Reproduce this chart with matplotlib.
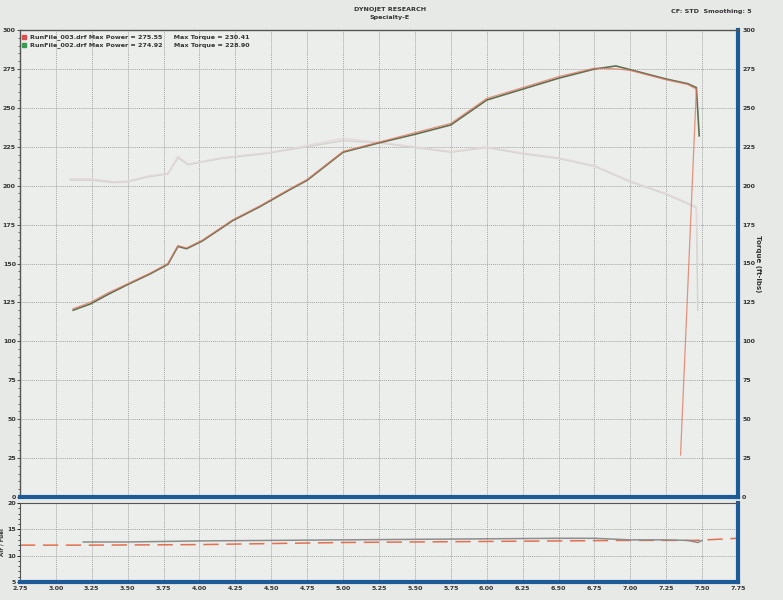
import matplotlib
matplotlib.use('agg')
import matplotlib.pyplot as plt
from matplotlib.ticker import MultipleLocator, AutoMinorLocator

# RPM x1000
rpm_003 = [3.12, 3.24, 3.36, 3.50, 3.66, 3.78, 3.85, 3.91, 4.02, 4.23, 4.42, 4.63, 4.75,
           5.00, 5.25, 5.50, 5.75, 6.00, 6.25, 6.50, 6.75, 6.90, 7.00, 7.25, 7.40, 7.46, 7.35]
power_003 = [121, 125, 131, 137, 144, 150, 161.5, 160, 165, 178, 187, 198, 204,
             222, 228, 234, 240, 256, 263, 270, 275.5, 275, 274, 268, 265, 262, 27]
rpm_002 = [3.12, 3.24, 3.36, 3.50, 3.66, 3.78, 3.85, 3.91, 4.02, 4.23, 4.42, 4.63, 4.75,
           5.00, 5.25, 5.50, 5.75, 6.00, 6.25, 6.50, 6.75, 6.90, 7.00, 7.25, 7.40, 7.46, 7.48]
power_002 = [120, 124, 130, 136.5, 143.5, 149.5, 161, 159.5, 164.5, 177.5, 186.5, 197.5, 203.5,
             221.5, 227.5, 233, 239, 255, 262, 269, 274.9, 276.9, 274.5, 268.5, 265.5, 263, 232]

rpm_tq = [3.10, 3.25, 3.40, 3.50, 3.65, 3.78, 3.85, 3.92, 4.15, 4.45, 4.63, 5.00,
          5.25, 5.50, 5.75, 6.00, 6.25, 6.50, 6.75, 7.00, 7.25, 7.46, 7.47]
torque_003 = [204.5, 204.5, 202.6, 203, 206.4, 208, 219, 214, 218, 221, 223.7, 230.4,
              228, 225, 222, 225, 221, 218, 213, 203, 195, 186.5, 150]
torque_002 = [203.5, 203.5, 202, 202.5, 205.8, 207.5, 218, 213.5, 217.5, 220.5, 223.2, 228.9,
              227.5, 224.5, 221.5, 224.5, 220.5, 217.5, 212.5, 202.5, 194.5, 186, 120]

rpm_afr = [3.19, 3.50, 4.00, 4.50, 5.00, 5.50, 6.00, 6.50, 6.75, 7.00, 7.25, 7.40, 7.47, 7.50]
afr_run = [12.6, 12.6, 12.8, 12.9, 13.0, 13.1, 13.2, 13.3, 13.3, 13.0, 13.0, 12.9, 12.5, 12.9]
rpm_afr_ref = [2.75, 3.25, 4.00, 4.50, 5.00, 5.50, 6.00, 6.50, 7.00, 7.45, 7.75]
afr_ref = [12.0, 12.0, 12.1, 12.3, 12.5, 12.6, 12.7, 12.8, 12.9, 12.9, 13.3]

x_ticks = [2.75 + 0.25 * i for i in range(21)]
legend_lines = ['RunFile_003.drf Max Power = 275.55     Max Torque = 230.41',
                'RunFile_002.drf Max Power = 274.92     Max Torque = 228.90']

bg = '#e7e9e7'
blue = '#1d5b98'
grid_kw = dict(color='#a4a6a4', linestyle=(0, (1, 1)), linewidth=0.7)

fig = plt.figure(figsize=(7.83, 6.0), dpi=100, facecolor=bg)
W, H = 783.0, 600.0

ax = fig.add_axes([20 / W, (H - 497) / H, (738 - 20) / W, (497 - 30) / H], facecolor='#eceeec')
ax2 = fig.add_axes([20 / W, (H - 582) / H, (738 - 20) / W, (582 - 503) / H], facecolor='#eceeec')

# main panel
ax.plot(rpm_tq, torque_002, color='#d2d4d2', lw=1.1, zorder=2)
ax.plot(rpm_tq, torque_003, color='#e6d8d8', lw=0.9, zorder=2)
ax.plot(rpm_002, power_002, color='#5f7050', lw=1.2, zorder=3)
ax.plot(rpm_003, power_003, color='#e07a62', lw=0.9, alpha=0.8, zorder=4)

ax.set_xlim(2.75, 7.75)
ax.set_ylim(0, 300)
ax.xaxis.set_major_locator(MultipleLocator(0.25))
ax.yaxis.set_major_locator(MultipleLocator(25))
ax.yaxis.set_minor_locator(AutoMinorLocator(5))
ax.grid(True, which='major', **grid_kw)
ax.tick_params(axis='x', bottom=False, labelbottom=False)
ax.tick_params(axis='y', which='major', length=2, width=0.6, color='#333333', pad=1, labelsize=4.5)
ax.tick_params(axis='y', which='minor', length=1.2, width=0.5, color='#333333')
for lab in ax.get_yticklabels():
    lab.set_fontweight('bold')
    lab.set_color('#333333')

for s in ['left', 'top']:
    ax.spines[s].set_color('#555555')
    ax.spines[s].set_linewidth(1.0)
ax.spines['bottom'].set_color(blue)
ax.spines['bottom'].set_linewidth(3.0)
ax.spines['right'].set_color(blue)
ax.spines['right'].set_linewidth(3.0)

axr = ax.twinx()
axr.set_ylim(0, 300)
axr.yaxis.set_major_locator(MultipleLocator(25))
axr.tick_params(axis='y', length=0, pad=3, labelsize=4.5)
for lab in axr.get_yticklabels():
    lab.set_fontweight('bold')
    lab.set_color('#333333')
for s in axr.spines.values():
    s.set_visible(False)
axr.set_ylabel('Torque (ft-lbs)', rotation=270, fontsize=5, fontweight='bold',
               color='#333333', labelpad=4)

# legend
for i, txt in enumerate(legend_lines):
    yy = 0.985 - i * 0.018
    ax.plot([0.006], [yy], marker='s', ms=3.2, color=['#d85050', '#3a9a50'][i],
            transform=ax.transAxes, clip_on=False)
    ax.text(0.014, yy, txt, transform=ax.transAxes, fontsize=4.6, fontweight='bold',
            color='#333333', va='center', ha='left')

# lower panel
ax2.plot(rpm_afr, afr_run, color='#8c8c8c', lw=1.1, zorder=3)
ax2.plot(rpm_afr_ref, afr_ref, color='#e07050', lw=1.1, dashes=(10, 5), zorder=2)
ax2.set_xlim(2.75, 7.75)
ax2.set_ylim(5, 20)
ax2.set_xticks(x_ticks)
ax2.set_xticklabels(['%.2f' % v for v in x_ticks])
ax2.yaxis.set_major_locator(MultipleLocator(5))
ax2.yaxis.set_minor_locator(AutoMinorLocator(5))
ax2.grid(True, which='major', **grid_kw)
ax2.tick_params(axis='x', length=0, pad=3, labelsize=4.5)
ax2.tick_params(axis='y', which='major', length=2, width=0.6, pad=1, labelsize=4.5)
ax2.tick_params(axis='y', which='minor', length=1.2, width=0.5)
for lab in ax2.get_xticklabels() + ax2.get_yticklabels():
    lab.set_fontweight('bold')
    lab.set_color('#333333')
ax2.spines['left'].set_color('#555555')
ax2.spines['top'].set_color('#555555')
ax2.spines['bottom'].set_color(blue)
ax2.spines['bottom'].set_linewidth(3.0)
ax2.spines['right'].set_color(blue)
ax2.spines['right'].set_linewidth(3.0)
ax2.set_ylabel('Air / Fuel', fontsize=4, fontweight='bold', color='#333333', labelpad=2)

# header text
fig.text(390 / W, 1 - 9 / H, 'DYNOJET RESEARCH', fontsize=4.6, fontweight='bold',
         color='#333333', ha='center', va='center')
fig.text(390 / W, 1 - 18 / H, 'Specialty-E', fontsize=4.6, fontweight='bold',
         color='#333333', ha='center', va='center')
fig.text(752 / W, 1 - 11 / H, 'CF: STD  Smoothing: 5', fontsize=4.6, fontweight='bold',
         color='#333333', ha='right', va='center')

fig.savefig('out.png', dpi=100, facecolor=bg)
